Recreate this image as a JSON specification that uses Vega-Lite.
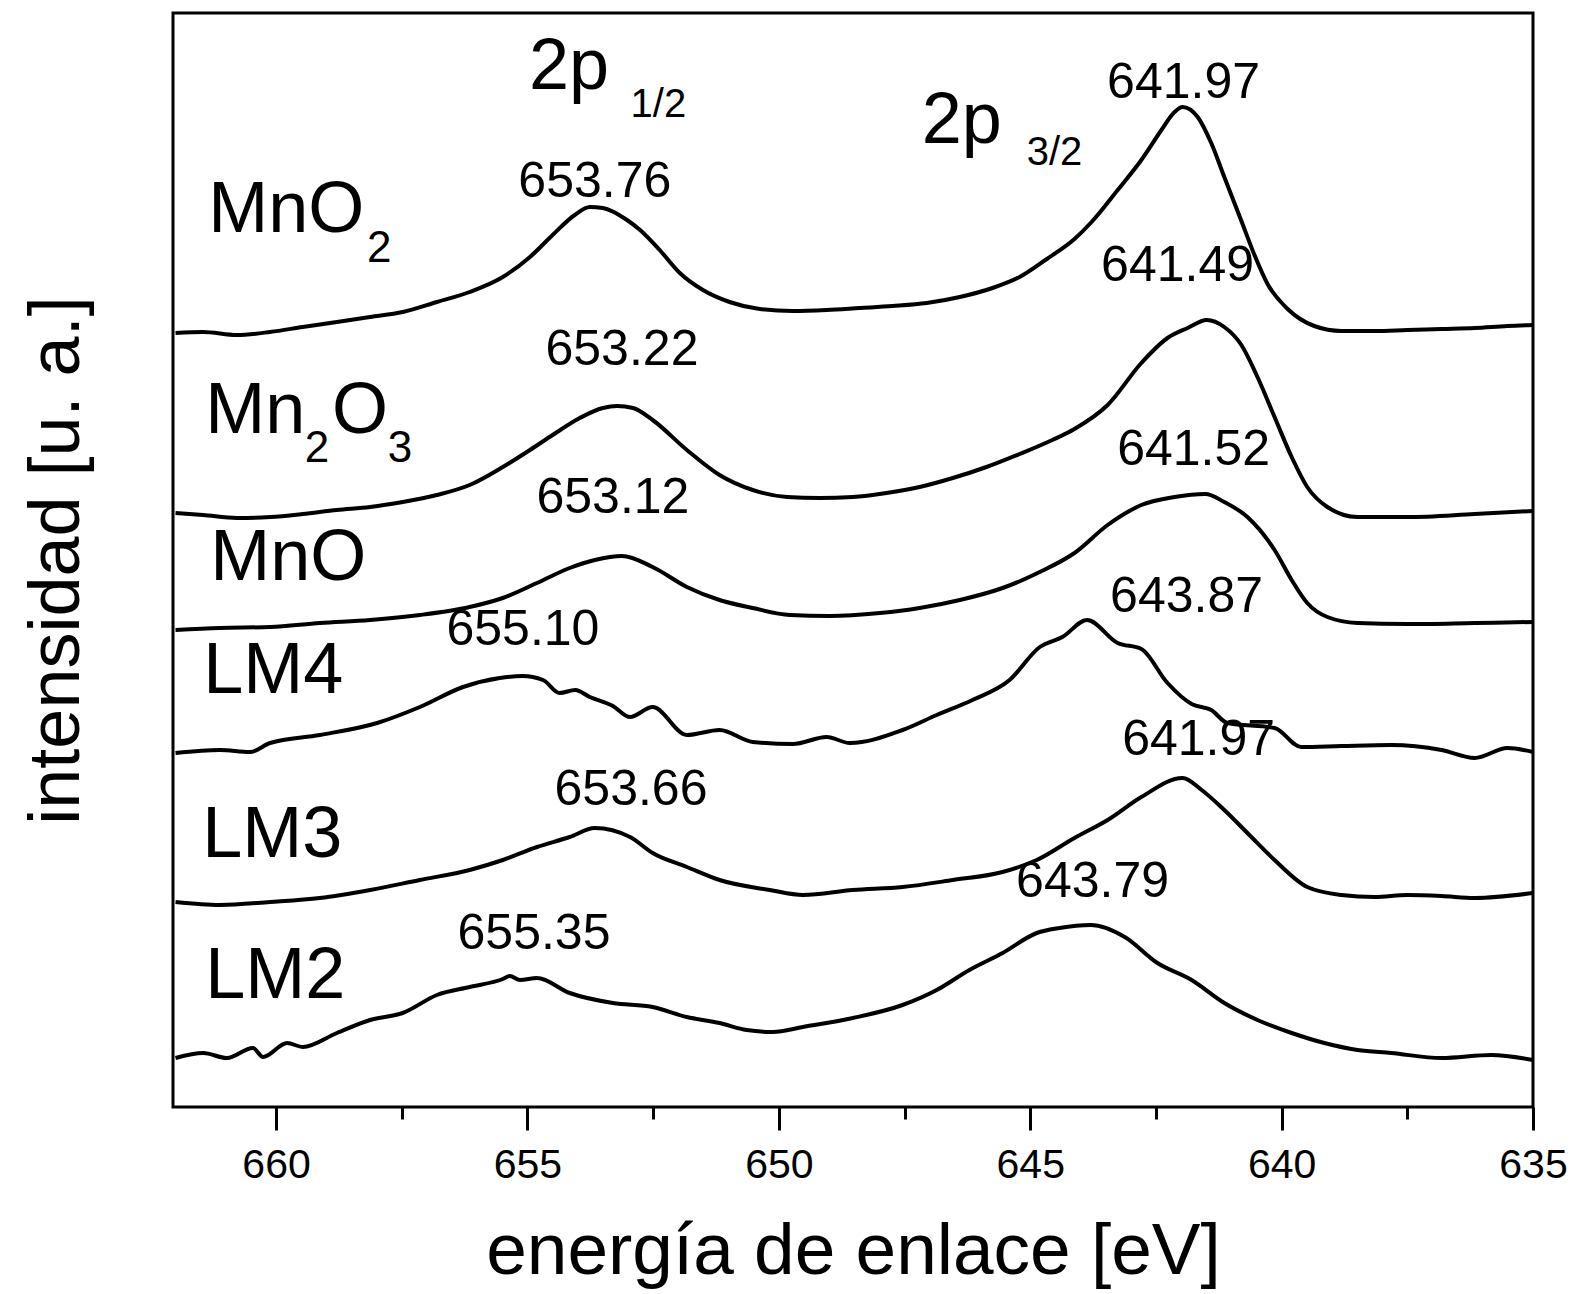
{
  "$schema": "https://vega.github.io/schema/vega-lite/v6.json",
  "width": 1360,
  "height": 1094,
  "autosize": {"type": "none"},
  "padding": {"left": 173, "top": 13, "right": 40, "bottom": 187},
  "background": "white",
  "config": {
    "view": {"stroke": "black", "strokeWidth": 3},
    "font": "Liberation Sans",
    "axis": {"grid": false}
  },
  "datasets": {
    "espectros": [
      {"m":"MnO2","E":662.0,"I":774},{"m":"MnO2","E":661.45,"I":775},{"m":"MnO2","E":660.78,"I":772},{"m":"MnO2","E":660.12,"I":775},{"m":"MnO2","E":659.47,"I":780},{"m":"MnO2","E":658.79,"I":785},{"m":"MnO2","E":658.13,"I":790},{"m":"MnO2","E":657.48,"I":795},{"m":"MnO2","E":656.8,"I":805},{"m":"MnO2","E":656.15,"I":815},{"m":"MnO2","E":655.49,"I":830},{"m":"MnO2","E":654.95,"I":850},{"m":"MnO2","E":654.5,"I":872},{"m":"MnO2","E":654.06,"I":892},{"m":"MnO2","E":653.76,"I":900},{"m":"MnO2","E":653.5,"I":899},{"m":"MnO2","E":653.02,"I":887},{"m":"MnO2","E":652.76,"I":877},{"m":"MnO2","E":652.37,"I":857},{"m":"MnO2","E":651.97,"I":834},{"m":"MnO2","E":651.51,"I":817},{"m":"MnO2","E":650.98,"I":805},{"m":"MnO2","E":650.38,"I":798},{"m":"MnO2","E":649.72,"I":796},{"m":"MnO2","E":649.05,"I":797},{"m":"MnO2","E":648.39,"I":799},{"m":"MnO2","E":647.74,"I":801},{"m":"MnO2","E":647.06,"I":804},{"m":"MnO2","E":646.4,"I":810},{"m":"MnO2","E":645.75,"I":819},{"m":"MnO2","E":645.21,"I":830},{"m":"MnO2","E":644.67,"I":848},{"m":"MnO2","E":644.12,"I":868},{"m":"MnO2","E":643.78,"I":885},{"m":"MnO2","E":643.26,"I":917},{"m":"MnO2","E":642.79,"I":947},{"m":"MnO2","E":642.39,"I":977},{"m":"MnO2","E":642.13,"I":995},{"m":"MnO2","E":641.97,"I":1000},{"m":"MnO2","E":641.67,"I":990},{"m":"MnO2","E":641.4,"I":964},{"m":"MnO2","E":641.14,"I":930},{"m":"MnO2","E":640.8,"I":886},{"m":"MnO2","E":640.54,"I":852},{"m":"MnO2","E":640.28,"I":823},{"m":"MnO2","E":639.88,"I":798},{"m":"MnO2","E":639.35,"I":781},{"m":"MnO2","E":638.81,"I":776},{"m":"MnO2","E":638.15,"I":776},{"m":"MnO2","E":637.5,"I":777},{"m":"MnO2","E":636.82,"I":778},{"m":"MnO2","E":636.16,"I":779},{"m":"MnO2","E":635.51,"I":781},{"m":"MnO2","E":635.0,"I":782},
      {"m":"Mn2O3","E":662.0,"I":594},{"m":"Mn2O3","E":661.45,"I":592},{"m":"Mn2O3","E":660.78,"I":589},{"m":"Mn2O3","E":660.12,"I":590},{"m":"Mn2O3","E":659.47,"I":593},{"m":"Mn2O3","E":658.79,"I":597},{"m":"Mn2O3","E":658.13,"I":600},{"m":"Mn2O3","E":657.48,"I":605},{"m":"Mn2O3","E":656.8,"I":612},{"m":"Mn2O3","E":656.15,"I":622},{"m":"Mn2O3","E":655.49,"I":640},{"m":"Mn2O3","E":654.95,"I":657},{"m":"Mn2O3","E":654.5,"I":672},{"m":"Mn2O3","E":653.96,"I":689},{"m":"Mn2O3","E":653.5,"I":699},{"m":"Mn2O3","E":653.22,"I":701},{"m":"Mn2O3","E":652.9,"I":699},{"m":"Mn2O3","E":652.51,"I":687},{"m":"Mn2O3","E":651.83,"I":657},{"m":"Mn2O3","E":651.18,"I":632},{"m":"Mn2O3","E":650.52,"I":617},{"m":"Mn2O3","E":649.84,"I":610},{"m":"Mn2O3","E":649.19,"I":609},{"m":"Mn2O3","E":648.53,"I":610},{"m":"Mn2O3","E":647.86,"I":614},{"m":"Mn2O3","E":647.2,"I":620},{"m":"Mn2O3","E":646.54,"I":629},{"m":"Mn2O3","E":645.87,"I":640},{"m":"Mn2O3","E":645.21,"I":653},{"m":"Mn2O3","E":644.56,"I":667},{"m":"Mn2O3","E":644.12,"I":678},{"m":"Mn2O3","E":643.46,"I":702},{"m":"Mn2O3","E":642.79,"I":744},{"m":"Mn2O3","E":642.27,"I":769},{"m":"Mn2O3","E":641.87,"I":779},{"m":"Mn2O3","E":641.49,"I":787},{"m":"Mn2O3","E":641.14,"I":780},{"m":"Mn2O3","E":640.8,"I":762},{"m":"Mn2O3","E":640.48,"I":730},{"m":"Mn2O3","E":640.14,"I":690},{"m":"Mn2O3","E":639.8,"I":650},{"m":"Mn2O3","E":639.49,"I":620},{"m":"Mn2O3","E":639.09,"I":600},{"m":"Mn2O3","E":638.49,"I":590},{"m":"Mn2O3","E":637.5,"I":590},{"m":"Mn2O3","E":636.16,"I":593},{"m":"Mn2O3","E":635.0,"I":596},
      {"m":"MnO","E":662.0,"I":477},{"m":"MnO","E":661.12,"I":479},{"m":"MnO","E":660.12,"I":480},{"m":"MnO","E":659.13,"I":484},{"m":"MnO","E":658.13,"I":487},{"m":"MnO","E":657.14,"I":492},{"m":"MnO","E":656.15,"I":500},{"m":"MnO","E":655.49,"I":509},{"m":"MnO","E":654.81,"I":524},{"m":"MnO","E":654.16,"I":539},{"m":"MnO","E":653.66,"I":547},{"m":"MnO","E":653.12,"I":551},{"m":"MnO","E":652.51,"I":540},{"m":"MnO","E":651.83,"I":520},{"m":"MnO","E":651.18,"I":507},{"m":"MnO","E":650.52,"I":499},{"m":"MnO","E":649.78,"I":492},{"m":"MnO","E":648.99,"I":491},{"m":"MnO","E":647.99,"I":494},{"m":"MnO","E":647.2,"I":499},{"m":"MnO","E":646.4,"I":507},{"m":"MnO","E":645.55,"I":519},{"m":"MnO","E":644.81,"I":535},{"m":"MnO","E":644.12,"I":554},{"m":"MnO","E":643.46,"I":582},{"m":"MnO","E":642.79,"I":602},{"m":"MnO","E":642.13,"I":610},{"m":"MnO","E":641.52,"I":613},{"m":"MnO","E":641.14,"I":605},{"m":"MnO","E":640.68,"I":590},{"m":"MnO","E":640.14,"I":557},{"m":"MnO","E":639.8,"I":527},{"m":"MnO","E":639.49,"I":504},{"m":"MnO","E":639.09,"I":490},{"m":"MnO","E":638.49,"I":484},{"m":"MnO","E":637.5,"I":483},{"m":"MnO","E":636.16,"I":484},{"m":"MnO","E":635.0,"I":485},
      {"m":"LM4","E":662.0,"I":354},{"m":"LM4","E":661.12,"I":357},{"m":"LM4","E":660.52,"I":355},{"m":"LM4","E":660.12,"I":364},{"m":"LM4","E":659.13,"I":372},{"m":"LM4","E":657.99,"I":384},{"m":"LM4","E":657.14,"I":400},{"m":"LM4","E":656.28,"I":420},{"m":"LM4","E":655.55,"I":429},{"m":"LM4","E":655.1,"I":431},{"m":"LM4","E":654.69,"I":427},{"m":"LM4","E":654.36,"I":414},{"m":"LM4","E":654.05,"I":417},{"m":"LM4","E":653.76,"I":410},{"m":"LM4","E":653.3,"I":401},{"m":"LM4","E":652.96,"I":390},{"m":"LM4","E":652.51,"I":400},{"m":"LM4","E":651.83,"I":372},{"m":"LM4","E":651.18,"I":377},{"m":"LM4","E":650.52,"I":365},{"m":"LM4","E":649.72,"I":363},{"m":"LM4","E":649.05,"I":370},{"m":"LM4","E":648.59,"I":364},{"m":"LM4","E":647.54,"I":377},{"m":"LM4","E":646.86,"I":392},{"m":"LM4","E":646.15,"I":407},{"m":"LM4","E":645.41,"I":427},{"m":"LM4","E":644.81,"I":460},{"m":"LM4","E":644.36,"I":470},{"m":"LM4","E":643.87,"I":487},{"m":"LM4","E":643.26,"I":464},{"m":"LM4","E":642.79,"I":458},{"m":"LM4","E":642.27,"I":424},{"m":"LM4","E":641.79,"I":403},{"m":"LM4","E":641.4,"I":397},{"m":"LM4","E":641.08,"I":384},{"m":"LM4","E":640.14,"I":379},{"m":"LM4","E":639.61,"I":360},{"m":"LM4","E":638.81,"I":361},{"m":"LM4","E":637.82,"I":362},{"m":"LM4","E":636.82,"I":357},{"m":"LM4","E":636.16,"I":349},{"m":"LM4","E":635.51,"I":359},{"m":"LM4","E":635.0,"I":355},
      {"m":"LM3","E":662.0,"I":205},{"m":"LM3","E":661.12,"I":202},{"m":"LM3","E":660.12,"I":205},{"m":"LM3","E":659.13,"I":209},{"m":"LM3","E":658.13,"I":217},{"m":"LM3","E":657.14,"I":227},{"m":"LM3","E":656.15,"I":237},{"m":"LM3","E":655.49,"I":247},{"m":"LM3","E":654.81,"I":260},{"m":"LM3","E":654.16,"I":270},{"m":"LM3","E":653.66,"I":279},{"m":"LM3","E":652.96,"I":270},{"m":"LM3","E":652.51,"I":254},{"m":"LM3","E":651.83,"I":240},{"m":"LM3","E":651.18,"I":227},{"m":"LM3","E":650.18,"I":217},{"m":"LM3","E":649.52,"I":212},{"m":"LM3","E":648.53,"I":217},{"m":"LM3","E":647.54,"I":220},{"m":"LM3","E":646.54,"I":227},{"m":"LM3","E":645.55,"I":235},{"m":"LM3","E":644.87,"I":247},{"m":"LM3","E":644.12,"I":269},{"m":"LM3","E":643.46,"I":287},{"m":"LM3","E":642.79,"I":310},{"m":"LM3","E":641.97,"I":329},{"m":"LM3","E":641.59,"I":317},{"m":"LM3","E":641.14,"I":297},{"m":"LM3","E":640.68,"I":274},{"m":"LM3","E":640.14,"I":247},{"m":"LM3","E":639.49,"I":220},{"m":"LM3","E":638.81,"I":212},{"m":"LM3","E":638.15,"I":210},{"m":"LM3","E":637.5,"I":212},{"m":"LM3","E":636.82,"I":211},{"m":"LM3","E":636.16,"I":209},{"m":"LM3","E":635.0,"I":214},
      {"m":"LM2","E":662.0,"I":49},{"m":"LM2","E":661.45,"I":54},{"m":"LM2","E":660.98,"I":49},{"m":"LM2","E":660.46,"I":59},{"m":"LM2","E":660.26,"I":50},{"m":"LM2","E":659.78,"I":64},{"m":"LM2","E":659.47,"I":60},{"m":"LM2","E":658.79,"I":74},{"m":"LM2","E":658.13,"I":87},{"m":"LM2","E":657.48,"I":94},{"m":"LM2","E":656.8,"I":112},{"m":"LM2","E":656.15,"I":120},{"m":"LM2","E":655.49,"I":128},{"m":"LM2","E":655.35,"I":131},{"m":"LM2","E":655.15,"I":127},{"m":"LM2","E":654.81,"I":129},{"m":"LM2","E":654.16,"I":114},{"m":"LM2","E":653.3,"I":104},{"m":"LM2","E":652.51,"I":100},{"m":"LM2","E":651.83,"I":90},{"m":"LM2","E":651.18,"I":84},{"m":"LM2","E":650.64,"I":77},{"m":"LM2","E":650.12,"I":75},{"m":"LM2","E":649.52,"I":80},{"m":"LM2","E":648.53,"I":89},{"m":"LM2","E":647.54,"I":102},{"m":"LM2","E":646.86,"I":117},{"m":"LM2","E":646.21,"I":137},{"m":"LM2","E":645.55,"I":154},{"m":"LM2","E":644.87,"I":174},{"m":"LM2","E":644.42,"I":179},{"m":"LM2","E":643.79,"I":182},{"m":"LM2","E":643.12,"I":170},{"m":"LM2","E":642.47,"I":144},{"m":"LM2","E":641.79,"I":127},{"m":"LM2","E":641.14,"I":104},{"m":"LM2","E":640.48,"I":87},{"m":"LM2","E":639.8,"I":74},{"m":"LM2","E":639.15,"I":64},{"m":"LM2","E":638.49,"I":57},{"m":"LM2","E":637.82,"I":54},{"m":"LM2","E":636.82,"I":49},{"m":"LM2","E":635.83,"I":52},{"m":"LM2","E":635.0,"I":47}
    ],
    "picos": [
      {"m":"MnO2","pico":653.76,"E":653.66,"I":910},
      {"m":"MnO2","pico":641.97,"E":641.95,"I":1009},
      {"m":"Mn2O3","pico":653.22,"E":653.12,"I":742},
      {"m":"Mn2O3","pico":641.49,"E":642.07,"I":826},
      {"m":"MnO","pico":653.12,"E":653.3,"I":594},
      {"m":"MnO","pico":641.52,"E":641.75,"I":642},
      {"m":"LM4","pico":655.1,"E":655.09,"I":462},
      {"m":"LM4","pico":643.87,"E":641.89,"I":495},
      {"m":"LM3","pico":641.97,"E":641.65,"I":352},
      {"m":"LM3","pico":653.66,"E":652.94,"I":302},
      {"m":"LM2","pico":643.79,"E":643.76,"I":210},
      {"m":"LM2","pico":655.35,"E":654.87,"I":158}
    ],
    "nombres": [
      {"t":"MnO","E":661.35,"I":875},
      {"t":"Mn","E":661.41,"I":674},
      {"t":"O","E":658.89,"I":674},
      {"t":"MnO","E":661.31,"I":527},
      {"t":"LM4","E":661.45,"I":414},
      {"t":"LM3","E":661.47,"I":250},
      {"t":"LM2","E":661.41,"I":109}
    ],
    "subindices": [
      {"t":"2","E":658.19,"I":845},
      {"t":"2","E":659.43,"I":645},
      {"t":"3","E":657.78,"I":645}
    ],
    "orbitales": [
      {"t":"2p","E":654.97,"I":1018},
      {"t":"2p","E":647.16,"I":964}
    ],
    "orbitales_sub": [
      {"t":"1/2","E":652.95,"I":990},
      {"t":"3/2","E":645.07,"I":942}
    ]
  },
  "encoding": {
    "y": {
      "field": "I", "type": "quantitative",
      "scale": {"domain": [0, 1094], "nice": false, "zero": false},
      "axis": {
        "orient": "left",
        "labels": false, "ticks": false, "domain": false,
        "title": "intensidad [u. a.]",
        "titleFont": "Liberation Sans", "titleFontSize": 72, "titleFontWeight": "normal", "titleColor": "black",
        "titleAngle": 270, "titlePadding": 95, "titleBaseline": "alphabetic"
      }
    }
  },
  "resolve": {"axis": {"x": "independent"}},
  "layer": [
    {
      "data": {"name": "espectros"},
      "mark": {"type": "line", "color": "black", "strokeWidth": 4, "interpolate": "monotone", "strokeJoin": "round"},
      "encoding": {
        "detail": {"field": "m"},
        "x": {
          "field": "E", "type": "quantitative",
          "scale": {"domain": [662.05, 635], "nice": false, "zero": false},
          "axis": {
            "orient": "bottom",
            "values": [660, 655, 650, 645, 640, 635],
            "format": "d",
            "domain": false,
            "ticks": true, "tickColor": "black", "tickWidth": 3, "tickSize": 23,
            "labelFontSize": 41, "labelColor": "black", "labelFont": "Liberation Sans",
            "labelPadding": 47, "labelBaseline": "alphabetic", "labelFlush": false, "labelOverlap": false,
            "title": "energía de enlace [eV]",
            "titleFont": "Liberation Sans", "titleFontSize": 73, "titleFontWeight": "normal", "titleColor": "black",
            "titleX": 680, "titleY": 166, "titleAlign": "center", "titleBaseline": "alphabetic"
          }
        }
      }
    },
    {
      "data": {"name": "picos"},
      "mark": {"type": "text", "font": "Liberation Sans", "fontSize": 50, "align": "center", "baseline": "alphabetic", "color": "black"},
      "encoding": {
        "x": {"field": "E", "type": "quantitative", "scale": {"domain": [662.05, 635], "nice": false, "zero": false}, "axis": null},
        "text": {"field": "pico", "type": "quantitative", "format": ".2f"}
      }
    },
    {
      "data": {"name": "nombres"},
      "mark": {"type": "text", "font": "Liberation Sans", "fontSize": 72, "align": "left", "baseline": "alphabetic", "color": "black"},
      "encoding": {
        "x": {"field": "E", "type": "quantitative", "scale": {"domain": [662.05, 635], "nice": false, "zero": false}, "axis": null},
        "text": {"field": "t"}
      }
    },
    {
      "data": {"name": "subindices"},
      "mark": {"type": "text", "font": "Liberation Sans", "fontSize": 44, "align": "left", "baseline": "alphabetic", "color": "black"},
      "encoding": {
        "x": {"field": "E", "type": "quantitative", "scale": {"domain": [662.05, 635], "nice": false, "zero": false}, "axis": null},
        "text": {"field": "t"}
      }
    },
    {
      "data": {"name": "orbitales"},
      "mark": {"type": "text", "font": "Liberation Sans", "fontSize": 72, "align": "left", "baseline": "alphabetic", "color": "black"},
      "encoding": {
        "x": {"field": "E", "type": "quantitative", "scale": {"domain": [662.05, 635], "nice": false, "zero": false}, "axis": null},
        "text": {"field": "t"}
      }
    },
    {
      "data": {"name": "orbitales_sub"},
      "mark": {"type": "text", "font": "Liberation Sans", "fontSize": 40, "align": "left", "baseline": "alphabetic", "color": "black"},
      "encoding": {
        "x": {
          "field": "E", "type": "quantitative",
          "scale": {"domain": [662.05, 635], "nice": false, "zero": false},
          "axis": {
            "orient": "bottom",
            "values": [657.5, 652.5, 647.5, 642.5, 637.5],
            "labels": false, "domain": false,
            "ticks": true, "tickColor": "black", "tickWidth": 3, "tickSize": 12,
            "title": null
          }
        },
        "text": {"field": "t"}
      }
    }
  ]
}
